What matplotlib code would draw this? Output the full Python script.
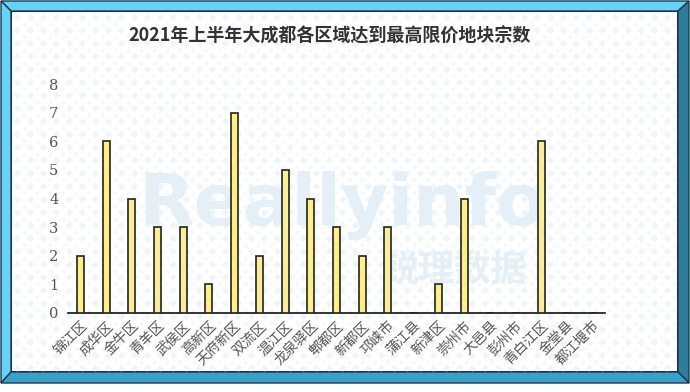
import matplotlib
matplotlib.use("Agg")
from matplotlib import pyplot as plt
from matplotlib.patches import Polygon
import numpy as np

plt.rcParams['font.family'] = ['Noto Sans CJK SC', 'DejaVu Sans']

districts = ["锦江区", "成华区", "金牛区", "青羊区", "武侯区", "高新区", "天府新区",
             "双流区", "温江区", "龙泉驿区", "郫都区", "新都区", "邛崃市", "蒲江县",
             "新津区", "崇州市", "大邑县", "彭州市", "青白江区", "金堂县", "都江堰市"]
counts = [2, 6, 4, 3, 3, 1, 7, 2, 5, 4, 3, 2, 3, 0, 1, 4, 0, 0, 6, 0, 0]
yticks = [0, 1, 2, 3, 4, 5, 6, 7, 8]
title = "2021年上半年大成都各区域达到最高限价地块宗数"

W, H = 690, 392
fig = plt.figure(figsize=(W / 100, H / 100), dpi=100)

# frame (bevelled border), frame bottom sits above the image bottom
bg = fig.add_axes([0, 0, 1, 1])
bg.set_xlim(0, W)
bg.set_ylim(H, 0)
bg.axis('off')
FW, FH = 689, 383
o, i = 1, 11
edge = '#1d3b4a'
bg.add_patch(Polygon([(o, o), (FW, o), (FW - i, i), (i, i)], closed=True,
                     fc='#63d3f7', ec=edge, lw=1))
bg.add_patch(Polygon([(o, o), (i, i), (i, FH - i), (o, FH)], closed=True,
                     fc='#63d3f7', ec=edge, lw=1))
bg.add_patch(Polygon([(FW, o), (FW, FH), (FW - i, FH - i), (FW - i, i)], closed=True,
                     fc='#2b7f9b', ec=edge, lw=1))
bg.add_patch(Polygon([(o, FH), (FW, FH), (FW - i, FH - i), (i, FH - i)], closed=True,
                     fc='#35a2ce', ec=edge, lw=1))
panel = Polygon([(i, i), (FW - i, i), (FW - i, FH - i), (i, FH - i)], closed=True,
                fc='white', ec='#1d2a30', lw=1.5, zorder=0.5)
bg.add_patch(panel)

# faint diamond background pattern, kept inside the white panel
gx, gy = np.meshgrid(np.arange(i + 6, FW - i, 13), np.arange(i + 6, FH - i, 13))
big = bg.scatter(gx.ravel(), gy.ravel(), marker='D', s=14, color='#eef6fb', lw=0, zorder=0.6)
small = bg.scatter(gx.ravel() + 6.5, gy.ravel() + 6.5, marker='D', s=6, color='#f3f9fc',
                   lw=0, zorder=0.6)
big.set_clip_path(panel)
small.set_clip_path(panel)

# watermark
bg.text(342, 205, "Reallyinfo", fontsize=52, fontweight='bold', color='#e4eff7',
        ha='center', va='center', family='DejaVu Sans')
bg.text(455, 270, "锐理数据", fontsize=26, fontweight='bold', color='#e4eff7',
        ha='center', va='center')

ax = fig.add_axes([68 / W, 1 - 313 / H, (605 - 68) / W, (313 - 84) / H])
ax.patch.set_alpha(0)
x = np.arange(len(districts))
ax.bar(x, counts, width=0.27, color='#fcee8a', edgecolor='#222222', linewidth=1.2, zorder=3)
ax.set_xlim(-0.5, len(districts) - 0.5)
ax.set_ylim(0, 8)
ax.set_yticks(yticks)
ax.set_yticklabels([str(v) for v in yticks], color='#555555', fontsize=10.5,
                   family='DejaVu Serif')
ax.set_xticks(x)
ax.set_xticklabels(districts, rotation=45, ha='right', rotation_mode='anchor',
                   color='#555555', fontsize=10)
ax.tick_params(axis='y', length=0, pad=7)
ax.tick_params(axis='x', length=0, pad=4)
for s in ['top', 'right', 'left']:
    ax.spines[s].set_visible(False)
ax.spines['bottom'].set_color('#111111')
ax.spines['bottom'].set_linewidth(1.2)

fig.text(330 / W, 1 - 36 / H, title, ha='center', va='center', fontsize=13,
         fontweight='bold', color='#333333')

fig.savefig('out.png', dpi=100)
